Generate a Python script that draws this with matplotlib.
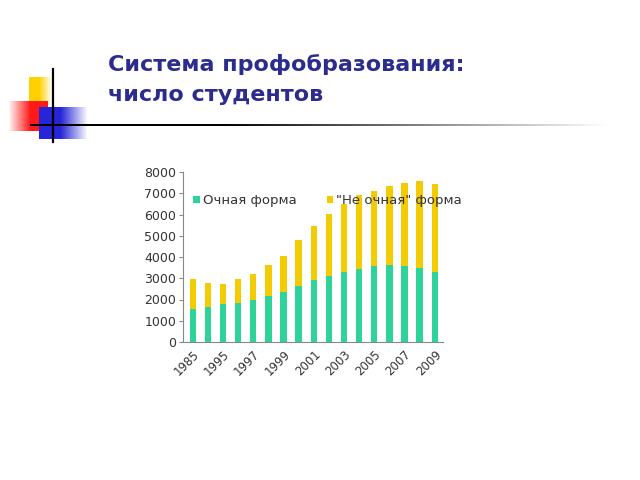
import numpy as np
import matplotlib.pyplot as plt

# student numbers as on the slide
years = ["1985", "1990", "1995", "1996", "1997", "1998", "1999", "2000", "2001",
         "2002", "2003", "2004", "2005", "2006", "2007", "2008", "2009"]
total = [2980, 2790, 2750, 2980, 3215, 3610, 4050, 4780, 5440,
         6010, 6480, 6930, 7100, 7330, 7500, 7580, 7450]
full_time = [1570, 1650, 1770, 1835, 1990, 2150, 2350, 2620, 2900,
             3100, 3290, 3450, 3560, 3610, 3580, 3480, 3290]
part_time = [t - f for t, f in zip(total, full_time)]

W, H = 640, 480
fig = plt.figure(figsize=(6.4, 4.8), dpi=100)

# ---- slide decoration (pixel coords overlay)
deco = fig.add_axes([0, 0, 1, 1])
deco.set_xlim(0, W)
deco.set_ylim(H, 0)
deco.axis("off")


def grad_box(ax, x0, x1, y0, y1, rgb, reverse=False):
    n = 64
    a = np.linspace(1.0, 0.0, n)
    if reverse:
        a = a[::-1]
    a = np.clip(a * 1.8, 0, 1)
    img = np.ones((1, n, 4))
    img[0, :, :3] = rgb
    img[0, :, 3] = a
    ax.imshow(img, extent=[x0, x1, y1, y0], aspect="auto", interpolation="bilinear", zorder=1)


grad_box(deco, 29, 52, 77, 104, (1.0, 0.82, 0.0))
grad_box(deco, 8, 48, 101, 131, (1.0, 0.1, 0.1), reverse=True)
grad_box(deco, 39, 88, 107, 139, (0.15, 0.15, 0.85))

# horizontal fading line
n = 200
line_img = np.zeros((1, n, 4))
line_img[0, :, 3] = np.clip(np.linspace(1.5, 0.0, n), 0, 1)
deco.imshow(line_img, extent=[30, 610, 126.5, 124.5], aspect="auto", interpolation="bilinear", zorder=2)
deco.plot([53, 53], [69, 142], color="black", lw=1.6, zorder=3)

deco.text(108, 71, "Система профобразования:", fontsize=16, fontweight="bold",
          color="#2c2c8e", va="baseline", ha="left")
deco.text(108, 101, "число студентов", fontsize=16, fontweight="bold",
          color="#2c2c8e", va="baseline", ha="left")

# ---- chart
ax = fig.add_axes([183 / W, (H - 342) / H, (443 - 183) / W, (342 - 172) / H])
x = np.arange(len(years))
ax.bar(x, full_time, width=0.42, color="#2fd39a", label="Очная форма", zorder=2)
ax.bar(x, part_time, width=0.42, bottom=full_time, color="#f2cc00",
       label='"Не очная" форма', zorder=2)

ax.set_ylim(0, 8000)
ax.set_yticks(range(0, 8001, 1000))
ax.set_xlim(-0.65, 16.55)
ax.set_xticks(x)
ax.set_xticklabels([y if i % 2 == 0 else "" for i, y in enumerate(years)],
                   rotation=45, ha="right", rotation_mode="anchor")

for s in ["top", "right"]:
    ax.spines[s].set_visible(False)
ax.spines["left"].set_color("#888888")
ax.spines["bottom"].set_color("#888888")
ax.tick_params(axis="y", length=3, color="#888888", labelsize=9, labelcolor="#333333", pad=2)
ax.tick_params(axis="x", length=0, labelsize=8.5, labelcolor="#333333", pad=4)

ax.legend(loc="upper left", bbox_to_anchor=(0.02, 0.9), ncol=2, frameon=False,
          fontsize=9.5, handlelength=0.5, handleheight=0.5, handletextpad=0.2,
          columnspacing=2.3, borderaxespad=0, labelcolor="#333333")

fig.savefig("out.png", dpi=100)
